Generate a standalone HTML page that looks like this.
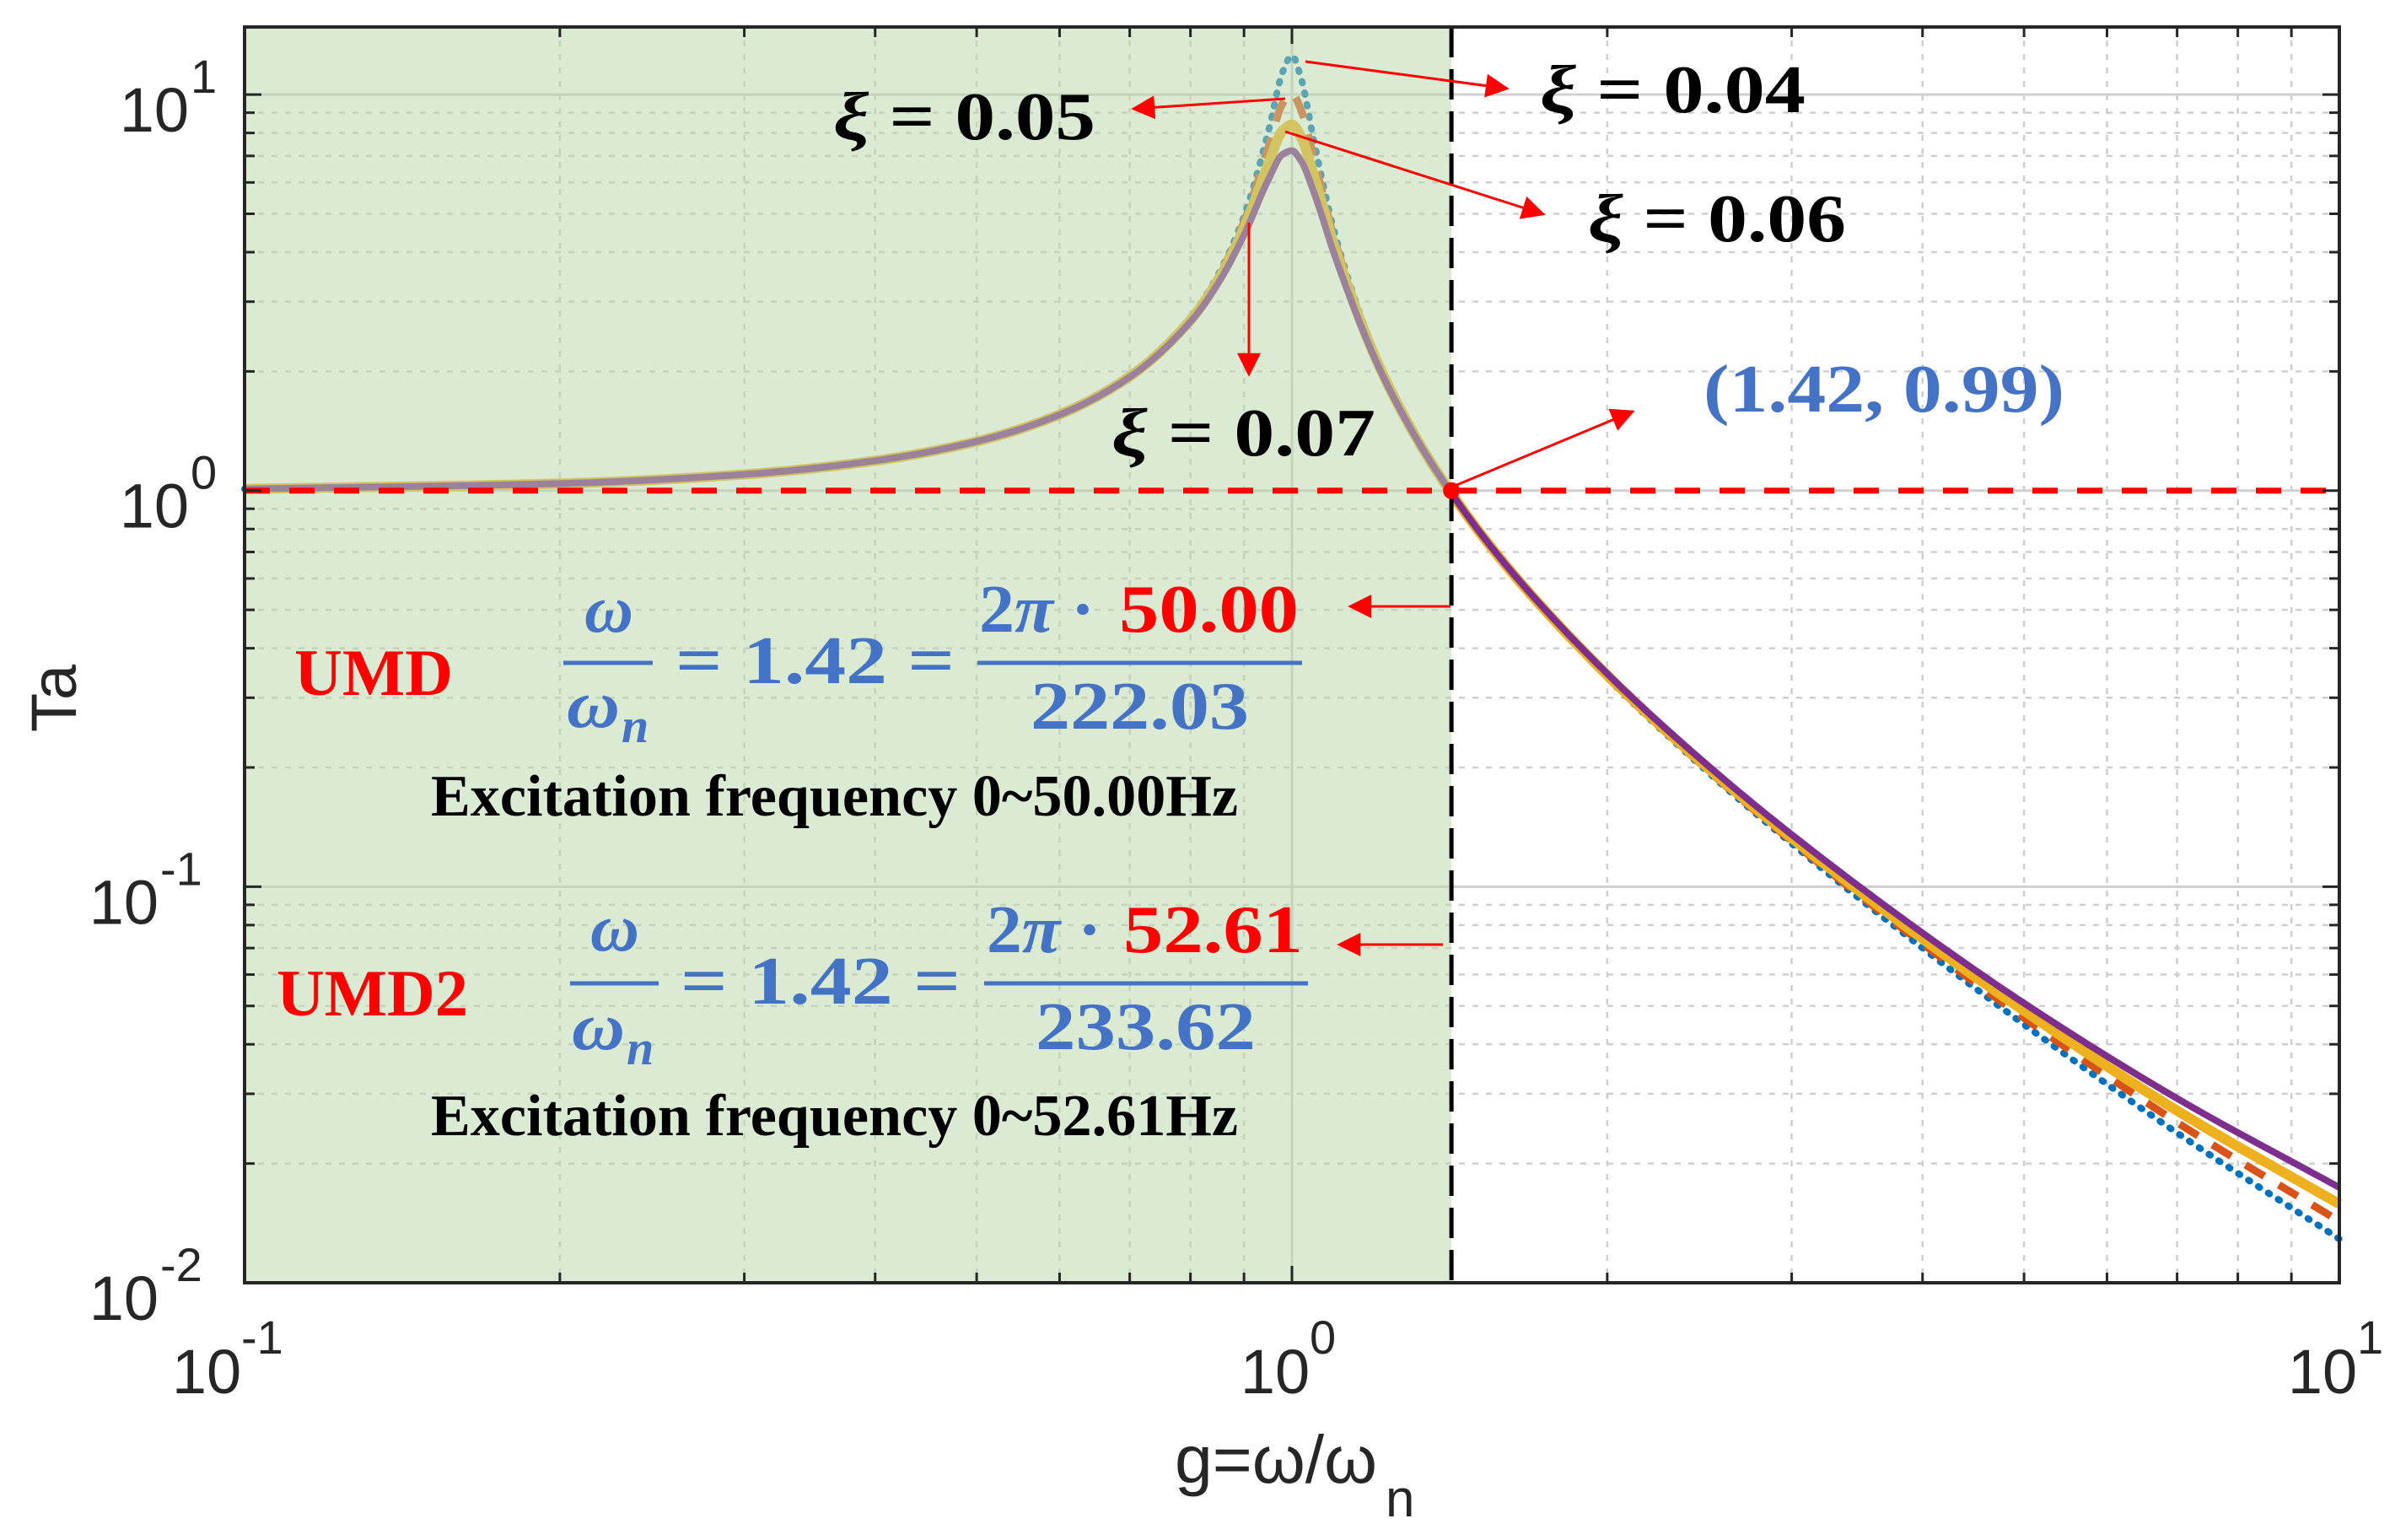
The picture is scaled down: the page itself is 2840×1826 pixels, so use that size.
<!DOCTYPE html>
<html><head><meta charset="utf-8"><style>
html,body{margin:0;padding:0;background:#fff;}
svg{display:block;}
text{font-family:"Liberation Serif",serif;}
.ax{font-family:"Liberation Sans",sans-serif;fill:#262626;}
</style></head><body>
<svg id="chart" width="2840" height="1826" viewBox="0 0 2840 1826" xmlns="http://www.w3.org/2000/svg">
<defs>
<marker id="ahb" viewBox="0 0 10 10" refX="9" refY="5" markerWidth="36" markerHeight="28" markerUnits="userSpaceOnUse" orient="auto">
<path d="M0,0 L10,5 L0,10 z" fill="#ff0000"/></marker>
</defs>
<g id="grid"></g>
<g id="curves"></g>
<rect id="shade" fill="#b7d5a5" fill-opacity="0.5"/>
<g id="refs"></g>
<g id="axes"></g>
<g id="ann">
  <line x1="1548" y1="73" x2="1787" y2="105" stroke="#ff0000" stroke-width="3" marker-end="url(#ahb)"/>
  <line x1="1524" y1="117" x2="1344" y2="129" stroke="#ff0000" stroke-width="3" marker-end="url(#ahb)"/>
  <line x1="1524" y1="156" x2="1830" y2="254" stroke="#ff0000" stroke-width="3" marker-end="url(#ahb)"/>
  <line x1="1481" y1="264" x2="1481" y2="444" stroke="#ff0000" stroke-width="3" marker-end="url(#ahb)"/>
  <line x1="1725" y1="576" x2="1936" y2="488" stroke="#ff0000" stroke-width="3" marker-end="url(#ahb)"/>
  <line x1="1720" y1="719" x2="1601" y2="719" stroke="#ff0000" stroke-width="3" marker-end="url(#ahb)"/>
  <line x1="1711" y1="1120" x2="1588" y2="1120" stroke="#ff0000" stroke-width="3" marker-end="url(#ahb)"/>

  <text x="1826" y="133" font-size="80" font-weight="bold" textLength="315" lengthAdjust="spacingAndGlyphs"><tspan font-style="italic">ξ</tspan> = 0.04</text>
  <text x="988" y="165" font-size="80" font-weight="bold" textLength="311" lengthAdjust="spacingAndGlyphs"><tspan font-style="italic">ξ</tspan> = 0.05</text>
  <text x="1883" y="286" font-size="80" font-weight="bold" textLength="306" lengthAdjust="spacingAndGlyphs"><tspan font-style="italic">ξ</tspan> = 0.06</text>
  <text x="1318" y="540" font-size="80" font-weight="bold" textLength="313" lengthAdjust="spacingAndGlyphs"><tspan font-style="italic">ξ</tspan> = 0.07</text>
  <text x="2020" y="488" font-size="80" font-weight="bold" fill="#4472c4" textLength="428" lengthAdjust="spacingAndGlyphs">(1.42, 0.99)</text>

  <g>
  <text x="349" y="824" font-size="78" font-weight="bold" fill="#ff0000" textLength="188" lengthAdjust="spacingAndGlyphs">UMD</text>
  <text x="693" y="749" font-size="80" font-weight="bold" font-style="italic" fill="#4472c4" textLength="58" lengthAdjust="spacingAndGlyphs">ω</text>
  <line x1="668" y1="786" x2="774" y2="786" stroke="#4472c4" stroke-width="5"/>
  <text x="672" y="862" font-size="80" font-weight="bold" font-style="italic" fill="#4472c4" textLength="63" lengthAdjust="spacingAndGlyphs">ω</text>
  <text x="737" y="880" font-size="58" font-weight="bold" font-style="italic" fill="#4472c4">n</text>
  <text x="801" y="810" font-size="80" font-weight="bold" fill="#4472c4" textLength="331" lengthAdjust="spacingAndGlyphs">= 1.42 =</text>
  <text x="1161" y="749" font-size="80" font-weight="bold" fill="#4472c4" textLength="137" lengthAdjust="spacingAndGlyphs">2<tspan font-style="italic">π</tspan> ·</text>
  <text x="1327" y="749" font-size="80" font-weight="bold" fill="#ff0000" textLength="213" lengthAdjust="spacingAndGlyphs">50.00</text>
  <line x1="1159" y1="786" x2="1544" y2="786" stroke="#4472c4" stroke-width="5"/>
  <text x="1222" y="864" font-size="80" font-weight="bold" fill="#4472c4" textLength="259" lengthAdjust="spacingAndGlyphs">222.03</text>
  <text x="511" y="967" font-size="70" font-weight="bold" fill="#000" textLength="957" lengthAdjust="spacingAndGlyphs">Excitation frequency 0~50.00Hz</text>
  </g>
  <g>
  <text x="328" y="1204" font-size="78" font-weight="bold" fill="#ff0000" textLength="227" lengthAdjust="spacingAndGlyphs">UMD2</text>
  <text x="700" y="1127" font-size="80" font-weight="bold" font-style="italic" fill="#4472c4" textLength="58" lengthAdjust="spacingAndGlyphs">ω</text>
  <line x1="676" y1="1166" x2="781" y2="1166" stroke="#4472c4" stroke-width="5"/>
  <text x="678" y="1244" font-size="80" font-weight="bold" font-style="italic" fill="#4472c4" textLength="63" lengthAdjust="spacingAndGlyphs">ω</text>
  <text x="743" y="1262" font-size="58" font-weight="bold" font-style="italic" fill="#4472c4">n</text>
  <text x="807" y="1190" font-size="80" font-weight="bold" fill="#4472c4" textLength="332" lengthAdjust="spacingAndGlyphs">= 1.42 =</text>
  <text x="1170" y="1129" font-size="80" font-weight="bold" fill="#4472c4" textLength="136" lengthAdjust="spacingAndGlyphs">2<tspan font-style="italic">π</tspan> ·</text>
  <text x="1332" y="1129" font-size="80" font-weight="bold" fill="#ff0000" textLength="213" lengthAdjust="spacingAndGlyphs">52.61</text>
  <line x1="1167" y1="1166" x2="1551" y2="1166" stroke="#4472c4" stroke-width="5"/>
  <text x="1228" y="1244" font-size="80" font-weight="bold" fill="#4472c4" textLength="261" lengthAdjust="spacingAndGlyphs">233.62</text>
  <text x="511" y="1346" font-size="70" font-weight="bold" fill="#000" textLength="957" lengthAdjust="spacingAndGlyphs">Excitation frequency 0~52.61Hz</text>
  </g>
</g>
<text class="ax" x="0" y="0" font-size="76" transform="translate(90,828) rotate(-90)" text-anchor="middle">Ta</text>
<text class="ax" x="1393" y="1758" font-size="80" textLength="240" lengthAdjust="spacingAndGlyphs">g=ω/ω</text>
<text class="ax" x="1643" y="1798" font-size="62">n</text>
</svg>
<script>
const gVals = [0.1,0.2,0.3,0.4,0.5,0.6,0.7,0.8,0.85,0.9,0.95,0.98,1.0,1.02,1.05,1.1,1.2,1.3,1.42,1.6,2,2.5,3,4,5,7,10];
const ta004 = [1.010,1.042,1.099,1.190,1.333,1.560,1.952,2.740,3.508,4.935,8.112,11.42,12.54,11.02,7.573,4.409,2.231,1.441,0.984,0.644,0.337,0.194,0.1285,0.0700,0.0449,0.0239,0.0129];
const ta005 = [1.010,1.042,1.099,1.190,1.332,1.559,1.947,2.720,3.458,4.776,7.379,9.506,10.05,9.162,6.853,4.244,2.208,1.436,0.984,0.646,0.339,0.196,0.1304,0.0718,0.0466,0.0254,0.0143];
const ta006 = [1.010,1.042,1.099,1.190,1.331,1.557,1.942,2.696,3.400,4.602,6.709,8.114,8.393,7.817,6.205,4.067,2.182,1.431,0.984,0.648,0.342,0.1985,0.1327,0.0739,0.0486,0.0272,0.0158];
const ta007 = [1.010,1.042,1.099,1.190,1.331,1.555,1.935,2.669,3.335,4.421,6.117,7.069,7.212,6.807,5.640,3.885,2.153,1.424,0.985,0.650,0.345,0.2014,0.1354,0.0764,0.0508,0.0292,0.0174];
const xTickExps = ["-1","0","1"];
const yTickExps = ["1","0","-1","-2"];
const cutoffG = 1.42;
const cutoffT = 1.0;

const NS = "http://www.w3.org/2000/svg";
const L = 290, R = 2774, T = 32, B = 1521;
const xMin = -1, xMax = 1, yMin = -2, yMax = 1.1706;
function X(v){ return L + (Math.log10(v) - xMin) / (xMax - xMin) * (R - L); }
function Y(v){ return B - (Math.log10(v) - yMin) / (yMax - yMin) * (B - T); }
function mk(tag, attrs, parent){
  const e = document.createElementNS(NS, tag);
  for (const k in attrs) e.setAttribute(k, attrs[k]);
  parent.appendChild(e); return e;
}
const grid = document.getElementById('grid');
const axes = document.getElementById('axes');
for (let d = xMin; d < xMax; d++) {
  for (let m = 1; m <= 9; m++) {
    const x = X(m * Math.pow(10, d));
    if (m === 1 && d === xMin) continue;
    const ln = mk('line', {x1:x, y1:T, x2:x, y2:B, stroke: m===1 ? '#d0d0d0' : '#cfcfcf', 'stroke-width': m===1?3:2.5, 'stroke-dasharray': m===1 ? 'none' : '7,9'}, grid);
    
    
    const t1 = mk('line', {x1:x, y1:B, x2:x, y2:B-(m===1?20:12), stroke:'#262626', 'stroke-width':3}, axes);
    
    
    const t2 = mk('line', {x1:x, y1:T, x2:x, y2:T+(m===1?20:12), stroke:'#262626', 'stroke-width':3}, axes);
    
    
  }
}
for (let d = yMin; d <= 1; d++) {
  for (let m = 1; m <= 9; m++) {
    const v = m * Math.pow(10, d);
    if (Math.log10(v) > yMax) continue;
    if (d === yMin && m === 1) continue;
    const y = Y(v);
    const ln = mk('line', {x1:L, y1:y, x2:R, y2:y, stroke: m===1 ? '#d0d0d0' : '#cfcfcf', 'stroke-width': m===1?3:2.5, 'stroke-dasharray': m===1 ? 'none' : '7,9'}, grid);
    
    
    const t1 = mk('line', {x1:L, y1:y, x2:L+(m===1?20:12), y2:y, stroke:'#262626', 'stroke-width':3}, axes);
    
    
    const t2 = mk('line', {x1:R, y1:y, x2:R-(m===1?20:12), y2:y, stroke:'#262626', 'stroke-width':3}, axes);
    
    
  }
}
// monotone cubic interpolation in log-log space
function pathFor(vals){
  const n = gVals.length;
  const xs = gVals.map(g => Math.log10(g));
  const ys = vals.map(v => Math.log10(v));
  const dl = [], m = new Array(n);
  for (let i = 0; i < n-1; i++) dl.push((ys[i+1]-ys[i])/(xs[i+1]-xs[i]));
  m[0] = dl[0]; m[n-1] = dl[n-2];
  for (let i = 1; i < n-1; i++) {
    if (dl[i-1]*dl[i] <= 0) m[i] = 0;
    else {
      const h0 = xs[i]-xs[i-1], h1 = xs[i+1]-xs[i];
      const w1 = 2*h1 + h0, w2 = h1 + 2*h0;
      m[i] = (w1 + w2) / (w1/dl[i-1] + w2/dl[i]);
    }
  }
  const pts = [];
  for (let i = 0; i < n-1; i++) {
    const h = xs[i+1]-xs[i];
    const steps = 24;
    for (let s = 0; s < steps; s++) {
      const t = s/steps;
      const h00 = 2*t*t*t - 3*t*t + 1, h10 = t*t*t - 2*t*t + t, h01 = -2*t*t*t + 3*t*t, h11 = t*t*t - t*t;
      const lx = xs[i] + t*h;
      const ly = h00*ys[i] + h10*h*m[i] + h01*ys[i+1] + h11*h*m[i+1];
      pts.push([X(Math.pow(10,lx)), Y(Math.pow(10,ly))]);
    }
  }
  pts.push([X(gVals[n-1]), Y(vals[n-1])]);
  return 'M' + pts.map(p => p[0].toFixed(1) + ',' + p[1].toFixed(1)).join(' L');
}
const curves = document.getElementById('curves');
const c1 = mk('path', {d:pathFor(ta004), fill:'none', stroke:'#0072bd', 'stroke-width':8, 'stroke-dasharray':'2,12', 'stroke-linecap':'round'}, curves);


const c2 = mk('path', {d:pathFor(ta005), fill:'none', stroke:'#d95319', 'stroke-width':9, 'stroke-dasharray':'26,20'}, curves);


const c3 = mk('path', {d:pathFor(ta006), fill:'none', stroke:'#edb120', 'stroke-width':12}, curves);


const c4 = mk('path', {d:pathFor(ta007), fill:'none', stroke:'#7e2f8e', 'stroke-width':8}, curves);


const sh = document.getElementById('shade');
sh.setAttribute('x', L); sh.setAttribute('y', T);
sh.setAttribute('width', X(cutoffG) - L); sh.setAttribute('height', B - T);
const refs = document.getElementById('refs');
const hl = mk('line', {x1:L, y1:Y(cutoffT), x2:R, y2:Y(cutoffT), stroke:'#ff0000', 'stroke-width':7, 'stroke-dasharray':'30,23'}, refs);


const vl = mk('line', {x1:X(cutoffG), y1:T, x2:X(cutoffG), y2:B, stroke:'#000', 'stroke-width':5, 'stroke-dasharray':'36,14'}, refs);


const dot = mk('circle', {cx:X(cutoffG), cy:Y(cutoffT), r:10, fill:'#ff0000'}, refs);


const box = mk('rect', {x:L, y:T, width:R-L, height:B-T, fill:'none', stroke:'#262626', 'stroke-width':4}, axes);


xTickExps.forEach(e => {
  const x = X(Math.pow(10, +e));
  const t = mk('text', {x: x - (e.length>1?45:20), y:1652, 'font-size':74, class:'ax', 'text-anchor':'middle'}, axes);
  t.textContent = '10';
  
  
  const s = mk('text', {x: x - (e.length>1?45:20) + 41, y:1605, 'font-size':56, class:'ax'}, axes);
  s.textContent = e;
  
  
});
yTickExps.forEach(e => {
  const y = Y(Math.pow(10, +e));
  const ex = e.length > 1 ? 70 : 34;
  const t = mk('text', {x: 258 - ex, y: y + 44, 'font-size':74, class:'ax', 'text-anchor':'end'}, axes);
  t.textContent = '10';
  
  
  const s = mk('text', {x: 258 - ex + 2, y: y - 2, 'font-size':56, class:'ax'}, axes);
  s.textContent = e;
  
  
});
</script>
</body></html>
